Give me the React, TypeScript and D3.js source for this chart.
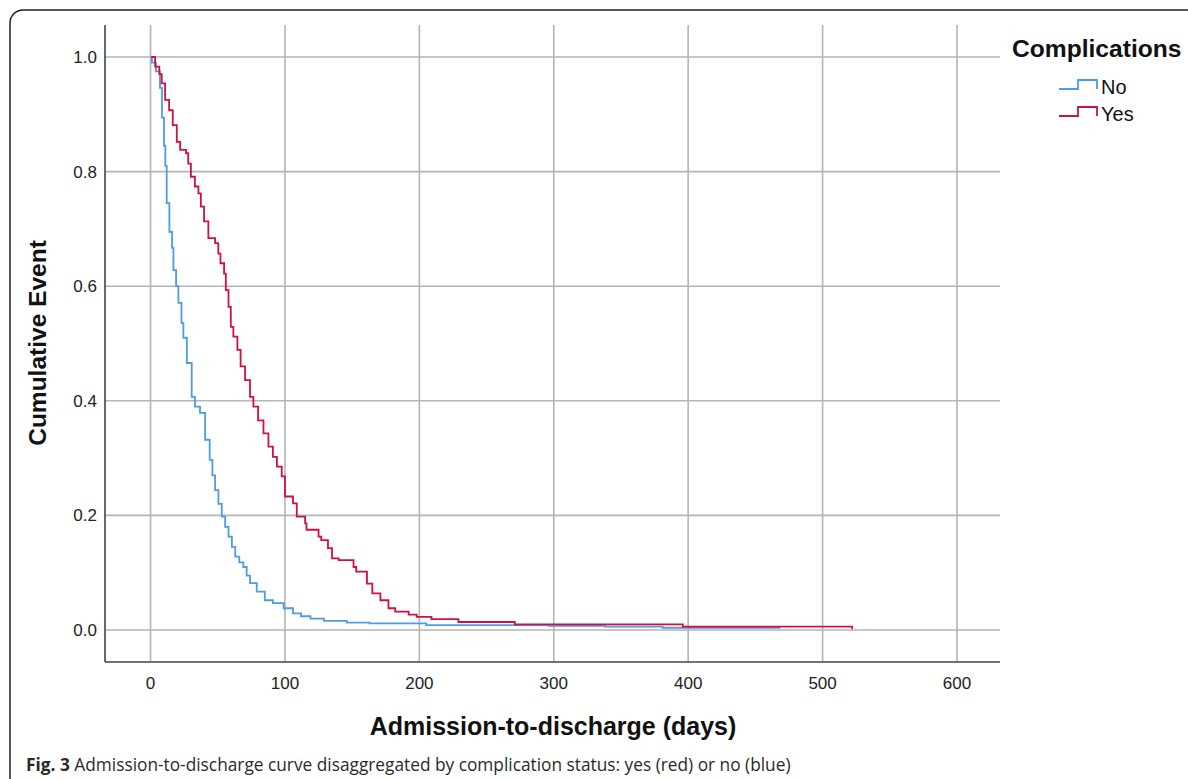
import React, { useEffect, useRef } from 'react';
import * as d3 from 'd3';

// Complications = No
const noDays = [0, 1, 4, 7, 8.5, 10, 11, 12, 14, 16, 17, 19, 20.7, 23, 24.4, 27, 30.6, 33, 36.8, 40.6, 44, 46, 48, 50.5, 53, 55.5, 58, 60.5, 63, 66, 69, 71.5, 74, 79, 85, 91, 99, 106, 112, 119, 129, 146, 163, 205, 296, 338, 381, 468];
const noValues = [1.0, 0.99, 0.975, 0.946, 0.894, 0.845, 0.81, 0.745, 0.695, 0.667, 0.628, 0.6, 0.571, 0.536, 0.51, 0.466, 0.407, 0.39, 0.379, 0.332, 0.297, 0.27, 0.244, 0.22, 0.198, 0.18, 0.163, 0.145, 0.128, 0.118, 0.11, 0.095, 0.082, 0.067, 0.052, 0.047, 0.038, 0.029, 0.024, 0.02, 0.016, 0.013, 0.0117, 0.0087, 0.0075, 0.0058, 0.004, 0.0023];

// Complications = Yes
const yesDays = [0.5, 3.4, 6.5, 8.3, 10.8, 13.8, 16.5, 19.5, 22, 26.4, 28, 30, 33, 35.6, 37.4, 39.8, 43, 48, 50.4, 52, 54.7, 56, 58, 59.7, 61.6, 64.6, 67, 70.3, 74, 76.5, 80, 84, 87.7, 91, 94, 97.6, 100, 106, 108.8, 115, 116, 125, 127, 132, 135, 140, 151, 153, 161, 165, 171, 177, 182, 192, 198, 209, 229, 271, 396, 522];
const yesValues = [1.0, 0.983, 0.97, 0.954, 0.925, 0.907, 0.881, 0.852, 0.838, 0.832, 0.814, 0.791, 0.774, 0.762, 0.739, 0.713, 0.684, 0.675, 0.657, 0.64, 0.622, 0.593, 0.564, 0.529, 0.512, 0.489, 0.46, 0.436, 0.407, 0.39, 0.366, 0.343, 0.32, 0.302, 0.285, 0.268, 0.233, 0.221, 0.198, 0.186, 0.175, 0.163, 0.157, 0.143, 0.125, 0.122, 0.11, 0.102, 0.081, 0.064, 0.052, 0.038, 0.032, 0.027, 0.023, 0.019, 0.014, 0.01, 0.006, 0.0015];

const xTicks = [0, 100, 200, 300, 400, 500, 600];
const yTicks = [0, 0.2, 0.4, 0.6, 0.8, 1.0];

const seriesNames = ['No', 'Yes'];
const seriesColors = ['#4e9be6', '#d2103e'];

const sans = "'Liberation Sans', Arial, sans-serif";

export default function App() {
  const ref = useRef<SVGSVGElement>(null);

  useEffect(() => {
    const svg = d3.select(ref.current);
    svg.selectAll('*').remove();

    const plot = { left: 105, right: 1000, top: 25, bottom: 662 };

    const xScale = d3.scaleLinear().domain([-33.9, 632]).range([plot.left, plot.right]);
    const yScale = d3.scaleLinear().domain([-0.0558, 1.0558]).range([plot.bottom, plot.top]);

    // frame
    svg
      .append('rect')
      .attr('x', 10)
      .attr('y', 10)
      .attr('width', 1200)
      .attr('height', 800)
      .attr('rx', 13)
      .attr('fill', 'none')
      .attr('stroke', '#222')
      .attr('stroke-width', 1.5);

    // grid
    svg
      .append('g')
      .selectAll('line')
      .data(xTicks)
      .enter()
      .append('line')
      .attr('x1', (d) => xScale(d))
      .attr('x2', (d) => xScale(d))
      .attr('y1', plot.top)
      .attr('y2', plot.bottom)
      .attr('stroke', '#b5b5b5')
      .attr('stroke-width', 1.6);

    svg
      .append('g')
      .selectAll('line')
      .data(yTicks)
      .enter()
      .append('line')
      .attr('x1', plot.left)
      .attr('x2', plot.right)
      .attr('y1', (d) => yScale(d))
      .attr('y2', (d) => yScale(d))
      .attr('stroke', '#b5b5b5')
      .attr('stroke-width', 1.6);

    // axis lines
    svg
      .append('line')
      .attr('x1', plot.left)
      .attr('x2', plot.left)
      .attr('y1', plot.top)
      .attr('y2', plot.bottom)
      .attr('stroke', '#444')
      .attr('stroke-width', 1.6);
    svg
      .append('line')
      .attr('x1', plot.left)
      .attr('x2', plot.right)
      .attr('y1', plot.bottom)
      .attr('y2', plot.bottom)
      .attr('stroke', '#444')
      .attr('stroke-width', 1.6);

    // tick labels
    svg
      .append('g')
      .selectAll('text')
      .data(yTicks)
      .enter()
      .append('text')
      .attr('x', 97)
      .attr('y', (d) => yScale(d) + 6)
      .attr('text-anchor', 'end')
      .attr('font-family', sans)
      .attr('font-size', 17)
      .attr('fill', '#222')
      .text((d) => d.toFixed(1));

    svg
      .append('g')
      .selectAll('text')
      .data(xTicks)
      .enter()
      .append('text')
      .attr('x', (d) => xScale(d))
      .attr('y', 689)
      .attr('text-anchor', 'middle')
      .attr('font-family', sans)
      .attr('font-size', 17)
      .attr('fill', '#222')
      .text((d) => String(d));

    // curves
    const line = d3
      .line<[number, number]>()
      .x((d) => xScale(d[0]))
      .y((d) => yScale(d[1]))
      .curve(d3.curveStepAfter);

    const series: [number, number][][] = [
      noDays.map((d, i) => [d, noValues[i]]),
      yesDays.map((d, i) => [d, yesValues[i]]),
    ];

    series.forEach((pts, i) => {
      svg
        .append('path')
        .attr('d', line(pts) as string)
        .attr('fill', 'none')
        .attr('stroke', seriesColors[i])
        .attr('stroke-width', 1.8);
    });

    // axis titles
    svg
      .append('text')
      .attr('transform', 'translate(46, 343) rotate(-90)')
      .attr('text-anchor', 'middle')
      .attr('font-family', sans)
      .attr('font-weight', 'bold')
      .attr('font-size', 24.5)
      .attr('fill', '#111')
      .text('Cumulative Event');

    svg
      .append('text')
      .attr('x', 553)
      .attr('y', 735)
      .attr('text-anchor', 'middle')
      .attr('font-family', sans)
      .attr('font-weight', 'bold')
      .attr('font-size', 25)
      .attr('fill', '#111')
      .text('Admission-to-discharge (days)');

    // legend
    svg
      .append('text')
      .attr('x', 1012)
      .attr('y', 57)
      .attr('font-family', sans)
      .attr('font-weight', 'bold')
      .attr('font-size', 24.6)
      .attr('fill', '#111')
      .text('Complications');

    seriesNames.forEach((name, i) => {
      const y0 = 89 + i * 27;
      const g = svg.append('g');
      g.append('path')
        .attr('d', `M1059,${y0}H1078V${y0 - 9}H1097V${y0}`)
        .attr('fill', 'none')
        .attr('stroke', seriesColors[i])
        .attr('stroke-width', 1.8);
      g.append('text')
        .attr('x', 1101)
        .attr('y', y0 + 5)
        .attr('font-family', sans)
        .attr('font-size', 20)
        .attr('fill', '#111')
        .text(name);
    });

    // caption
    const cap = svg
      .append('text')
      .attr('x', 26)
      .attr('y', 771)
      .attr('font-family', "'Open Sans', sans-serif")
      .attr('font-size', 17.3)
      .attr('fill', '#2a2a2a');
    cap.append('tspan').attr('font-weight', 'bold').text('Fig. 3');
    cap
      .append('tspan')
      .text(' Admission-to-discharge curve disaggregated by complication status: yes (red) or no (blue)');
  }, []);

  return (
    <svg
      ref={ref}
      width={1188}
      height={779}
      style={{ position: 'absolute', left: 0, top: 0, background: '#fff' }}
    />
  );
}
